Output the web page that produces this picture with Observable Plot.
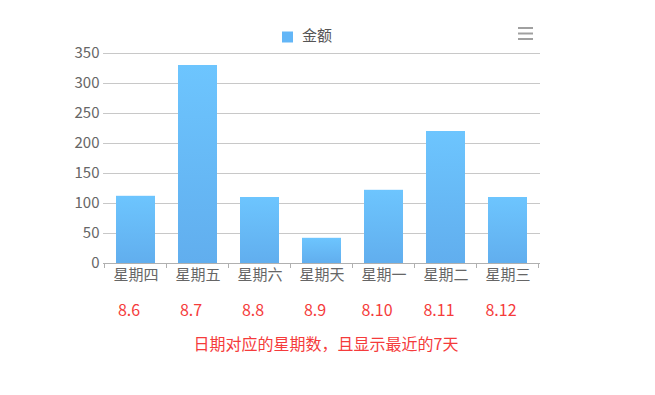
<!DOCTYPE html>
<html><head><meta charset="utf-8">
<script src="https://cdn.jsdelivr.net/npm/d3@7"></script>
<script src="https://cdn.jsdelivr.net/npm/@observablehq/plot@0.6"></script>
<style>
body{margin:0;background:#fff;font-family:"Noto Sans CJK SC","Noto Sans",sans-serif}
#chart{width:655px;height:395px}
</style>
</head><body><div id="chart"></div>
<script>
const days = ["星期四","星期五","星期六","星期天","星期一","星期二","星期三"];
const amounts = [112,330,110,42,122,220,110];
const dates = ["8.6","8.7","8.8","8.9","8.10","8.11","8.12"];
const yTicks = [0,50,100,150,200,250,300,350];
const seriesName = "金额";
const caption = "日期对应的星期数，且显示最近的7天";

const data = days.map((d,i)=>({day:d, amount:amounts[i], date:dates[i]}));
const FONT = '"Noto Sans CJK SC","Noto Sans",sans-serif';

function gradientDefs() {
  const svg = d3.create("svg:g");
  const lg = svg.append("defs").append("linearGradient")
    .attr("id","barGrad").attr("x1",0).attr("y1",0).attr("x2",0).attr("y2",1);
  lg.append("stop").attr("offset","0%").attr("stop-color","#6dc5fe");
  lg.append("stop").attr("offset","100%").attr("stop-color","#61aeee");
  return svg.node();
}

function boundaryTicks(index, scales, values, dims) {
  const g = d3.create("svg:g");
  const x = scales.x, y = scales.y;
  if (!x || !x.bandwidth) return g.node();
  const step = x.step ? x.step() : x.bandwidth();
  const half = (step - x.bandwidth()) / 2;
  const edges = days.map(d => x(d) - half);
  edges.push(x(days[days.length-1]) + x.bandwidth() + half);
  const y0 = y(0);
  g.selectAll("line").data(edges).join("line")
    .attr("x1", d => d).attr("x2", d => d)
    .attr("y1", y0).attr("y2", y0 + 5)
    .attr("stroke", "#b0b0b0").attr("stroke-width", 1)
    .attr("shape-rendering","crispEdges");
  return g.node();
}

function menuIcon(index, scales, values, dims) {
  const g = d3.create("svg:g");
  const right = dims.width - dims.marginRight;
  const x1 = right - 22, x2 = right - 7;
  [28, 33.5, 39].forEach(yy => {
    g.append("line").attr("x1", x1).attr("x2", x2).attr("y1", yy).attr("y2", yy)
      .attr("stroke", "#a0a0a0").attr("stroke-width", 2);
  });
  return g.node();
}

const chart = Plot.plot({
  width: 655, height: 395,
  marginLeft: 103, marginRight: 115, marginTop: 53, marginBottom: 132,
  style: {fontFamily: FONT, fontSize: "15px", color: "#666", background: "#fff", overflow: "visible"},
  x: {domain: days, paddingInner: 0.37, paddingOuter: 0.185, axis: null, label: null},
  y: {domain: [0, 350], axis: null, label: null},
  marks: [
    gradientDefs,
    Plot.gridY(yTicks, {stroke: "#c8c8c8", strokeOpacity: 1}),
    Plot.barY(data, {x: "day", y: "amount", fill: "url(#barGrad)"}),
    Plot.ruleY([0], {stroke: "#b0b0b0"}),
    boundaryTicks,
    Plot.axisY(yTicks, {tickSize: 0, tickPadding: 4, fill: "#666", fontSize: 15, label: null}),
    Plot.axisX(days, {tickSize: 0, tickPadding: 6, fill: "#666", fontSize: 15, label: null}),
    Plot.text(data, {x: "day", text: "date", frameAnchor: "bottom", dy: 52, dx: -7, fill: "#f53b3b", fontSize: 16}),
    Plot.text([caption], {frameAnchor: "bottom", dy: 86, dx: 4, fill: "#f53b3b", fontSize: 16}),
    Plot.dot([seriesName], {frameAnchor: "top", dx: -34.5, dy: -16.5, symbol: "square", r: 6.2, fill: "#63b6f7", stroke: null}),
    Plot.text([seriesName], {frameAnchor: "top", lineAnchor: "middle", dx: -20, dy: -17, textAnchor: "start", fill: "#555", fontSize: 15}),
    menuIcon
  ]
});
document.getElementById("chart").append(chart);
</script>
</body></html>
